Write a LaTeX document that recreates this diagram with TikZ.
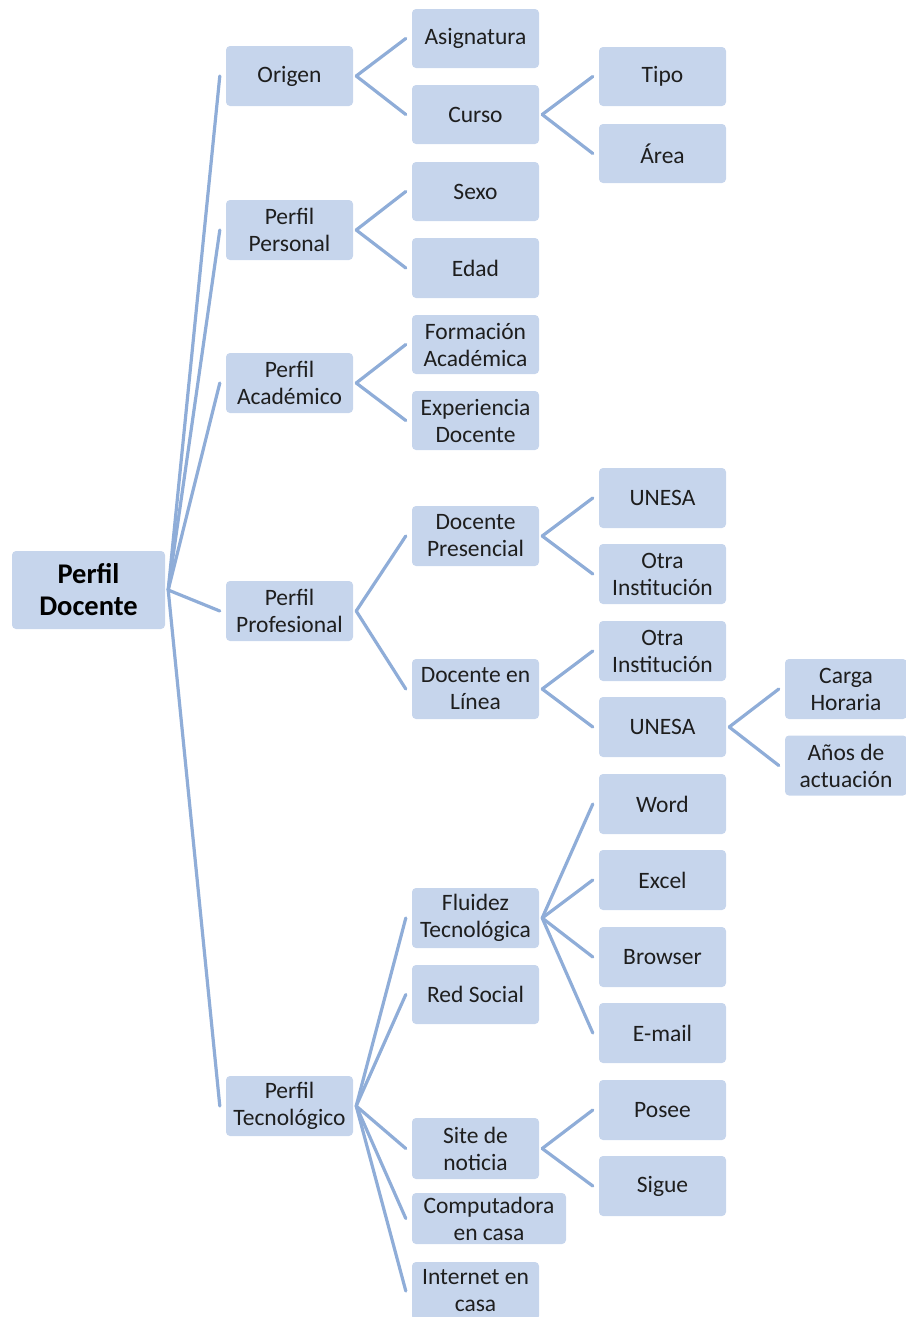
\documentclass[tikz,border=0pt]{standalone}
\usepackage{fontspec}
\setmainfont{Carlito}
\usetikzlibrary{calc}
\definecolor{boxfill}{RGB}{198,213,236}
\definecolor{linkline}{RGB}{143,173,216}
\definecolor{ink}{RGB}{30,30,30}
\tikzset{
  box/.style={rectangle, rounded corners=4pt, fill=boxfill, text=ink,
    minimum width=127pt, minimum height=60pt, inner sep=0pt, align=center,
    font=\fontsize{23.5}{27}\selectfont},
  rootbox/.style={box, minimum width=153pt, minimum height=78pt, text=black,
    font=\fontsize{28.5}{32}\selectfont\bfseries},
  link/.style={draw=linkline, line width=3.2pt, line cap=round},
}
\begin{document}
\begin{tikzpicture}[x=1pt, y=-1pt]
\useasboundingbox (0,0) rectangle (905,1317);

% root
\node[rootbox] (root) at (88.5,590) {Perfil\\Docente};

% first level
\node[box] (origen) at (289.5,76)  {Origen};
\node[box] (pers)   at (289.5,230) {Perfil\\Personal};
\node[box] (acad)   at (289.5,383) {Perfil\\Académico};
\node[box] (prof)   at (289.5,611) {Perfil\\Profesional};
\node[box] (tecn)   at (289.5,1106) {Perfil\\Tecnológico};

% second level
\node[box, minimum height=59pt] (asig) at (475.5,38.5) {Asignatura};
\node[box, minimum height=59pt] (curso) at (475.5,114.5) {Curso};
\node[box, minimum height=59pt] (sexo) at (475.5,191.5) {Sexo};
\node[box] (edad) at (475.5,268) {Edad};
\node[box, minimum height=59pt] (form) at (475.5,344.5) {Formación\\Académica};
\node[box, minimum height=59pt] (expe) at (475.5,420.5) {Experiencia\\Docente};
\node[box] (pres) at (475.5,536) {Docente\\Presencial};
\node[box] (linea) at (475.5,689) {Docente en\\Línea};
\node[box] (flui) at (475.5,918) {Fluidez\\Tecnológica};
\node[box, minimum height=59pt] (red) at (475.5,994.5) {Red Social};
\node[box, minimum height=61pt] (site) at (475.5,1148.5) {Site de\\noticia};
\node[box, minimum width=154pt, minimum height=51pt] (comp) at (489,1218.5) {Computadora\\en casa};
\node[box, minimum height=58pt] (inter) at (475.5,1291) {Internet en\\casa};

% third level
\node[box, minimum height=59pt] (tipo) at (662.5,76.5) {Tipo};
\node[box, minimum height=59pt] (area) at (662.5,153.5) {Área};
\node[box] (unesa1) at (662.5,498) {UNESA};
\node[box] (otra1)  at (662.5,574) {Otra\\Institución};
\node[box] (otra2)  at (662.5,651) {Otra\\Institución};
\node[box] (unesa2) at (662.5,727) {UNESA};
\node[box] (word)   at (662.5,804) {Word};
\node[box] (excel)  at (662.5,880) {Excel};
\node[box] (brow)   at (662.5,957) {Browser};
\node[box] (mail)   at (662.5,1033) {E-mail};
\node[box] (posee)  at (662.5,1110) {Posee};
\node[box] (sigue)  at (662.5,1186) {Sigue};

% fourth level
\node[box, minimum width=122pt] (carga) at (846,689) {Carga\\Horaria};
\node[box, minimum width=122pt] (anos)  at (846,765.5) {Años de\\actuación};

% connectors from the root
\foreach \c in {origen,pers,acad,prof,tecn}
  \draw[link] ($(root.east)+(3,0)$) -- ($(\c.west)+(-6,0)$);

% connectors between the other levels
\foreach \p/\c in {origen/asig, origen/curso, curso/tipo, curso/area,
    pers/sexo, pers/edad, acad/form, acad/expe,
    prof/pres, prof/linea, pres/unesa1, pres/otra1,
    linea/otra2, linea/unesa2, unesa2/carga, unesa2/anos,
    tecn/flui, tecn/red, tecn/site, tecn/comp, tecn/inter,
    flui/word, flui/excel, flui/brow, flui/mail,
    site/posee, site/sigue}
  \draw[link] ($(\p.east)+(3,0)$) -- ($(\c.west)+(-6,0)$);
\end{tikzpicture}
\end{document}
